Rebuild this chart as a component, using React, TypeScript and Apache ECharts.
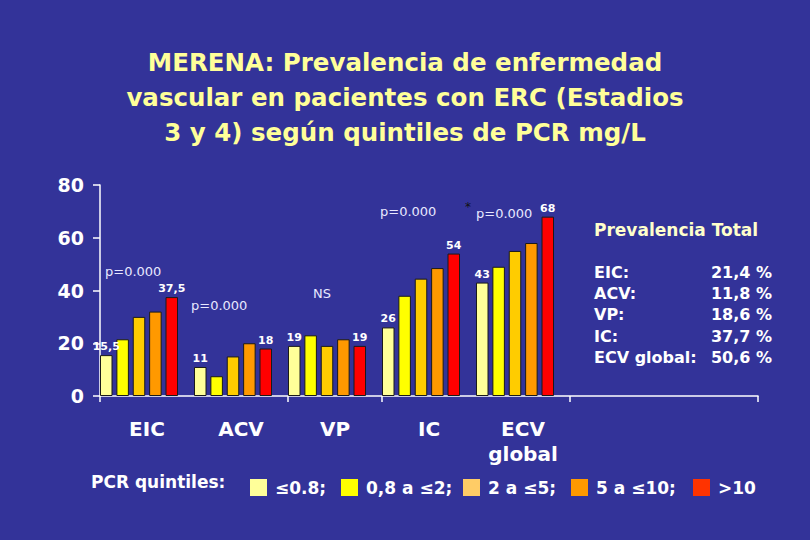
import React, { useEffect, useRef } from "react";
import * as echarts from "echarts";

const categories = ["EIC", "ACV", "VP", "IC", "ECV\nglobal"];
const quintileNames = ["≤0.8;", "0,8 a ≤2;", "2 a ≤5;", "5 a ≤10;", ">10"];
const q1 = [15.5, 11, 19, 26, 43];
const q2 = [21.5, 7.5, 23, 38, 49];
const q3 = [30, 15, 19, 44.5, 55];
const q4 = [32, 20, 21.5, 48.5, 58];
const q5 = [37.5, 18, 19, 54, 68];
const yTicks = [0, 20, 40, 60, 80];
const totalLabels = ["EIC:", "ACV:", "VP:", "IC:", "ECV global:"];
const totalValues = ["21,4 %", "11,8 %", "18,6 %", "37,7 %", "50,6 %"];
const pNotes = ["p=0.000", "p=0.000", "NS", "p=0.000", "p=0.000"];

const barColors = ["#FFFF99", "#FFFF00", "#FFCC00", "#FF9900", "#FF0000"];
const legendColors = ["#FFFF99", "#FFFF00", "#FFCC66", "#FF9900", "#FF3300"];
const FONT = "DejaVu Sans";

export default function App() {
  const ref = useRef<HTMLDivElement>(null);
  useEffect(() => {
    if (!ref.current) return;
    const chart = echarts.init(ref.current, undefined, { renderer: "svg" });
    const series = [q1, q2, q3, q4, q5];
    const axisCats = [...categories, " ", "  "];
    const labelOn = (i: number) => i === 0 || i === 4;
    const legendLefts = [245, 336, 458, 566, 688];
    const noteXY = [
      [105, 271],
      [191, 305],
      [313, 293],
      [380, 211],
      [476, 213],
    ];
    const option: any = {
      animation: false,
      backgroundColor: "#333399",
      title: {
        text:
          "MERENA: Prevalencia de enfermedad\nvascular en pacientes con ERC (Estadios\n3 y 4) según quintiles de PCR mg/L",
        left: "center",
        top: 40,
        textStyle: {
          color: "#FFFF99",
          fontSize: 24.5,
          fontWeight: "bold",
          fontFamily: FONT,
          lineHeight: 35,
        },
      },
      grid: [
        { left: 92, top: 185, width: 658, height: 211 },
        { left: 100, top: 185, width: 658, height: 211 },
      ],
      xAxis: [
        { gridIndex: 0, type: "category", data: axisCats, show: false },
        {
          gridIndex: 1,
          type: "category",
          data: axisCats,
          axisLine: { lineStyle: { color: "#FFFFFF", width: 1.5 } },
          axisTick: {
            show: true,
            length: 6,
            lineStyle: { color: "#FFFFFF", width: 1.5 },
            interval: (i: number) => i === 0 || i === 2 || i === 3 || i === 5,
          },
          axisLabel: {
            color: "#FFFFFF",
            fontSize: 20,
            fontWeight: "bold",
            fontFamily: FONT,
            margin: 20,
            lineHeight: 25,
            interval: 0,
          },
        },
      ],
      yAxis: [
        { gridIndex: 0, type: "value", min: 0, max: 80, interval: 20, show: false },
        {
          gridIndex: 1,
          type: "value",
          min: yTicks[0],
          max: yTicks[yTicks.length - 1],
          interval: 20,
          splitLine: { show: false },
          axisLine: { show: true, lineStyle: { color: "#FFFFFF", width: 1.5 } },
          axisTick: { show: true, length: 7, lineStyle: { color: "#FFFFFF", width: 1.5 } },
          axisLabel: {
            color: "#FFFFFF",
            fontSize: 19,
            fontWeight: "bold",
            fontFamily: FONT,
            margin: 16,
          },
        },
      ],
      legend: quintileNames.map((n, i) => ({
        left: legendLefts[i],
        top: 474,
        itemWidth: 17,
        itemHeight: 17,
        icon: "rect",
        data: [{ name: n, itemStyle: { color: legendColors[i], borderWidth: 0 } }],
        textStyle: {
          color: "#FFFFFF",
          fontSize: 17,
          fontWeight: "bold",
          fontFamily: FONT,
          padding: [0, 0, 0, 3],
        },
      })),
      series: series.map((d, si) => ({
        name: quintileNames[si],
        type: "bar",
        xAxisIndex: 0,
        yAxisIndex: 0,
        barWidth: 12.5,
        barGap: "31%",
        itemStyle: { color: barColors[si], borderColor: "#1a1a1a", borderWidth: 1 },
        label: {
          show: labelOn(si),
          position: "top",
          distance: 3,
          color: "#FFFFFF",
          fontSize: 11,
          fontWeight: "bold",
          fontFamily: FONT,
          formatter: (p: any) => String(p.value).replace(".", ","),
        },
        data: d,
      })),
      graphic: [
        {
          type: "text",
          left: 91,
          top: 473,
          style: {
            text: "PCR quintiles:",
            fill: "#FFFFFF",
            font: `bold 17px "${FONT}"`,
          },
        },
        ...pNotes.map((t, i) => ({
          type: "text",
          x: noteXY[i][0],
          y: noteXY[i][1],
          style: {
            text: t,
            fill: "#E8E8FF",
            font: `13px "${FONT}"`,
            verticalAlign: "middle",
          },
        })),
        {
          type: "text",
          x: 465,
          y: 207,
          style: { text: "*", fill: "#111111", font: `12px "${FONT}"`, verticalAlign: "middle" },
        },
        {
          type: "text",
          x: 594,
          y: 230,
          style: {
            text: "Prevalencia Total",
            fill: "#FFFFCC",
            font: `bold 17px "${FONT}"`,
            verticalAlign: "middle",
          },
        },
        ...totalLabels.map((t, i) => ({
          type: "text",
          x: 594,
          y: 272 + i * 21.4,
          style: {
            text: t,
            fill: "#FFFFFF",
            font: `bold 16px "${FONT}"`,
            verticalAlign: "middle",
          },
        })),
        ...totalValues.map((t, i) => ({
          type: "text",
          x: 772,
          y: 272 + i * 21.4,
          style: {
            text: t,
            fill: "#FFFFFF",
            font: `bold 16px "${FONT}"`,
            verticalAlign: "middle",
            align: "right",
          },
        })),
      ],
    };
    chart.setOption(option);
    return () => chart.dispose();
  }, []);
  return (
    <div
      ref={ref}
      style={{ position: "fixed", left: 0, top: 0, width: 810, height: 540 }}
    />
  );
}
